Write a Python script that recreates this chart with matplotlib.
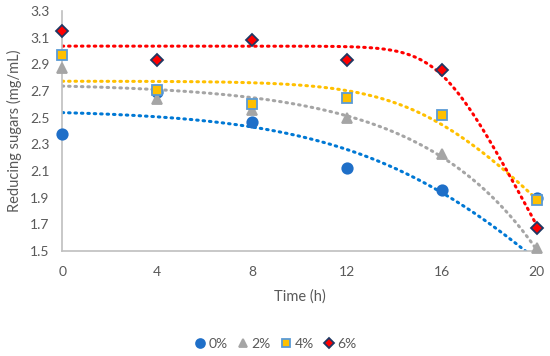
import numpy as np
import matplotlib.pyplot as plt

plt.rcParams['font.family'] = ['Lato', 'DejaVu Sans']

time = [0, 4, 8, 12, 16, 20]
labels = ['0%', '2%', '4%', '6%']
sugar_0 = [2.38, 2.69, 2.47, 2.12, 1.96, 1.90]
sugar_2 = [2.87, 2.64, 2.56, 2.50, 2.23, 1.52]
sugar_4 = [2.97, 2.71, 2.60, 2.65, 2.52, 1.88]
sugar_6 = [3.15, 2.93, 3.08, 2.93, 2.86, 1.67]

# trendline values (used to fit the smooth curve)
trend_t_0 = [0, 4, 8, 12, 16, 17, 18, 19.5]
trend_y_0 = [2.54, 2.50, 2.44, 2.25, 1.96, 1.82, 1.69, 1.51]
trend_t_2 = [0, 4, 8, 12, 16, 19.85]
trend_y_2 = [2.735, 2.72, 2.643, 2.51, 2.21, 1.545]
trend_t_4 = [0, 8, 12, 15.07, 16.37, 17.29, 18.16, 19.0, 20]
trend_y_4 = [2.78, 2.755, 2.70, 2.535, 2.417, 2.297, 2.169, 2.047, 1.89]
trend_t_6 = [0, 12, 14.37, 15.47, 15.78, 16.29, 16.66, 19.87]
trend_y_6 = [3.045, 3.02, 2.986, 2.893, 2.86, 2.77, 2.69, 1.733]

series = [sugar_0, sugar_2, sugar_4, sugar_6]
trends = [(trend_t_0, trend_y_0), (trend_t_2, trend_y_2),
          (trend_t_4, trend_y_4), (trend_t_6, trend_y_6)]
markers = ['o', '^', 's', 'D']
face = ['#1F6FC8', '#A5A5A5', '#FFC000', '#FF0000']
edge = ['#1F6FC8', '#A5A5A5', '#5B9BD5', '#1F3864']
line_col = ['#0078D4', '#A5A5A5', '#FFC000', '#FF0000']
msize = [7.5, 7.5, 7, 6]


def fit_trend(t, y):
    # y = a - m*softplus(k*(t - t0)); grid over k, t0 and least squares for a, m
    t = np.asarray(t, float)
    y = np.asarray(y, float)
    best = None
    for k in np.geomspace(0.05, 3.0, 120):
        for t0 in np.linspace(0, 40, 161):
            A = np.column_stack([np.ones_like(t), -np.logaddexp(0, k * (t - t0))])
            coef = np.linalg.lstsq(A, y, rcond=None)[0]
            err = np.sum((A @ coef - y) ** 2)
            if best is None or err < best[0]:
                best = (err, coef[0], coef[1], k, t0)
    return best[1:]


fig = plt.figure(figsize=(5.5, 3.56), dpi=100)
ax = fig.add_axes([0.113, 0.295, 0.863, 0.674])

tt = np.linspace(0, 20, 300)
handles = []
for i, (t_tr, y_tr) in enumerate(trends):
    a, m, k, t0 = fit_trend(t_tr, y_tr)
    ax.plot(tt, a - m * np.logaddexp(0, k * (tt - t0)), color=line_col[i], lw=2.2,
            linestyle=(0, (0.5, 1.6)), dash_capstyle='round', zorder=2)
for i, y in enumerate(series):
    h, = ax.plot(time, y, linestyle='none', marker=markers[i], ms=msize[i],
                 mfc=face[i], mec=edge[i], mew=1.3, zorder=3, clip_on=False,
                 label=labels[i])
    handles.append(h)

ax.set_xlim(0, 20)
ax.set_ylim(1.5, 3.3)
ax.set_xticks(time)
ax.set_yticks(np.arange(1.5, 3.31, 0.2))
ax.yaxis.set_major_formatter(plt.FormatStrFormatter('%.1f'))
for s in ['top', 'right']:
    ax.spines[s].set_visible(False)
for s in ['left', 'bottom']:
    ax.spines[s].set_color('#BFBFBF')
    ax.spines[s].set_linewidth(1.2)
ax.tick_params(length=0, labelsize=10, colors='#595959')
ax.tick_params(axis='x', pad=11)
ax.tick_params(axis='y', pad=9)
ax.set_xlabel('Time (h)', fontsize=10.5, color='#595959', labelpad=8)
ax.set_ylabel('Reducing sugars (mg/mL)', fontsize=10.5, color='#595959', labelpad=6)

fig.legend(handles=handles, loc='center', bbox_to_anchor=(0.5, 0.035), ncol=4,
           frameon=False, fontsize=10, labelcolor='#595959', handletextpad=0.1,
           columnspacing=0.6, handlelength=1.0, markerscale=0.85)

fig.savefig('out.png', dpi=100)
